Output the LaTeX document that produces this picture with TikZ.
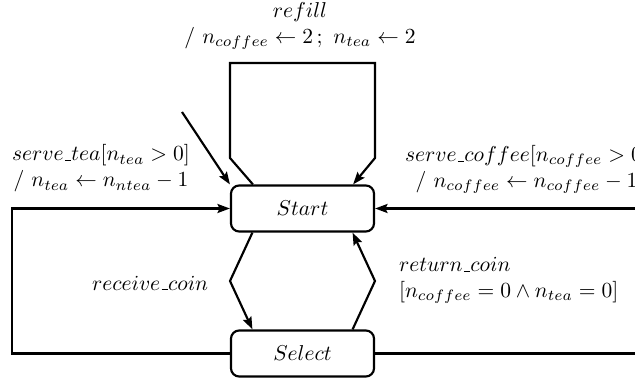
\documentclass[tikz,border=0pt]{standalone}
\usetikzlibrary{arrows.meta,calc}
% short low rule used as the underscore in identifiers
\newcommand{\usc}{\mbox{\kern.06em\vbox{\hrule height.5pt width.3em}}}
\begin{document}
\begin{tikzpicture}[x=0.465pt,y=-0.465pt,line width=1pt,
  >={Stealth[length=5.8pt,width=4.2pt,inset=1pt]}]
\tikzset{
  state/.style={draw,rounded corners=3.8pt,minimum width=66.5pt,
    minimum height=21.4pt,inner sep=0pt},
  lbl/.style={inner sep=0pt,align=center},
}
\useasboundingbox (0,0) rectangle (635,378);
\fill[white] (0,0) rectangle (635,378);

% states
\node[state] (start)  at (302.5,208.5) {$Start$};
\node[state] (select) at (302.5,353.5) {$Select$};

% initial transition
\coordinate (init) at (182,112);
\draw[->] (init) -- (start.north west);

% refill self-loop over the top
\coordinate (rfrom) at ($(start.north west)+(23,0)$);
\coordinate (rto)   at ($(start.north east)+(-22,0)$);
\draw[->] (rfrom) -- (230,158) -- (230,63) -- (375,63) -- (375,158) -- (rto);

% serve_tea loop on the left
\draw[->] (select.west) -- (12,353.5) |- (start.west);

% serve_coffee loop on the right
\draw[->] (select.east) -- (660,353.5) |- (start.east);

% receive_coin and return_coin
\coordinate (rcA) at ($(start.south west)+(22.5,0)$);
\coordinate (rcB) at ($(select.north west)+(22.5,0)$);
\draw[->] (rcA) -- (230,281) -- (rcB);
\coordinate (rtA) at ($(select.north east)+(-22.5,0)$);
\coordinate (rtB) at ($(start.south east)+(-22.5,0)$);
\draw[->] (rtA) -- (375,281) -- (rtB);

% transition labels
\node[lbl] (lrefill) at (300,26)
  {$refill$\\$/\ n_{coffee} \leftarrow 2\,;\ n_{tea} \leftarrow 2$};
\node[lbl,anchor=west] (ltea) at (11,168.5)
  {$serve\usc tea[n_{tea} > 0]$\\$/\ n_{tea} \leftarrow n_{ntea} - 1$};
\node[lbl,anchor=west] (lcoffee) at (404,169.5)
  {$serve\usc coffee[n_{coffee} > 0]$\\$/\ n_{coffee} \leftarrow n_{coffee} - 1$};
\node[lbl,anchor=west] (lrecv) at (91,283) {$receive\usc coin$};
\node[lbl,anchor=west,align=left] (lret) at (398,280.5)
  {$return\usc coin$\\$[n_{coffee} = 0 \wedge n_{tea} = 0]$};
\end{tikzpicture}
\end{document}
